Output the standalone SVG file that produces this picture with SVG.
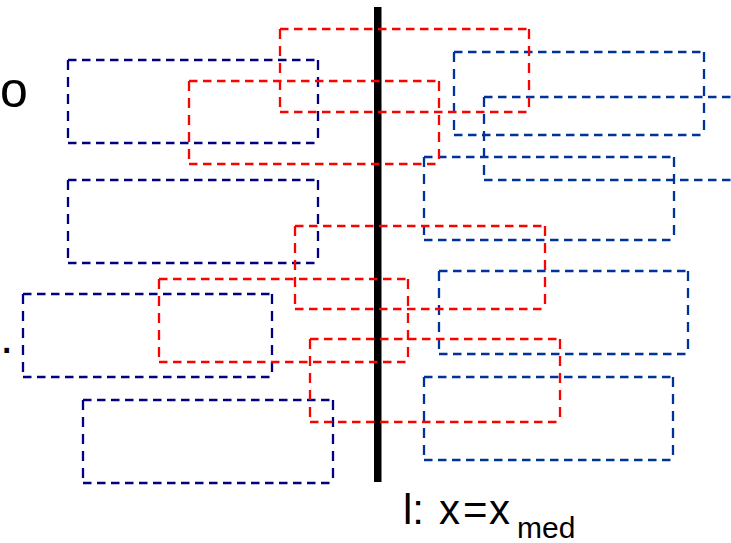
<svg xmlns="http://www.w3.org/2000/svg" width="731" height="543" viewBox="0 0 731 543">
<style>
path{fill:none;stroke-width:2.3}
.b{stroke:#000080}
.r{stroke:#ff0000}
.c{stroke:#003399}
.h{stroke-dasharray:8.5 5.5}
.v{stroke-dasharray:10 7}
text{font-family:"Liberation Sans",Arial,sans-serif;fill:#000}
</style>
<rect width="731" height="543" fill="#fff"/>
<g id="connectors">
<rect id="median-line" x="374" y="7" width="7.5" height="475" fill="#000"/>
</g>
<g id="left-blue-1" class="b"><path class="h" d="M68 60H318M68 143H318"/><path class="v" d="M68 60V143M318 60V143"/></g>
<g id="left-blue-2" class="b"><path class="h" d="M68 180H318M68 263H318"/><path class="v" d="M68 180V263M318 180V263"/></g>
<g id="left-blue-3" class="b"><path class="h" d="M23 294H272M23 377H272"/><path class="v" d="M23 294V377M272 294V377"/></g>
<g id="left-blue-4" class="b"><path class="h" d="M83 400H333M83 483H333"/><path class="v" d="M83 400V483M333 400V483"/></g>
<g id="right-blue-1" class="c"><path class="h" d="M454 52H704M454 135H704"/><path class="v" d="M454 52V135M704 52V135"/></g>
<g id="right-blue-2" class="c"><path class="h" d="M484 97H736M484 180H736"/><path class="v" d="M484 97V180"/></g>
<g id="right-blue-3" class="c"><path class="h" d="M424 157H674M424 240H674"/><path class="v" d="M424 157V240M674 157V240"/></g>
<g id="right-blue-4" class="c"><path class="h" d="M439 271H688M439 354H688"/><path class="v" d="M439 271V354M688 271V354"/></g>
<g id="right-blue-5" class="c"><path class="h" d="M424 377H673M424 460H673"/><path class="v" d="M424 377V460M673 377V460"/></g>
<g id="red-1" class="r"><path class="h" d="M280 29H529M280 112H529"/><path class="v" d="M280 29V112M529 29V112"/></g>
<g id="red-2" class="r"><path class="h" d="M189 81H439M189 164H439"/><path class="v" d="M189 81V164M439 81V164"/></g>
<g id="red-3" class="r"><path class="h" d="M295 226H545M295 309H545"/><path class="v" d="M295 226V309M545 226V309"/></g>
<g id="red-4" class="r"><path class="h" d="M159 279H408M159 362H408"/><path class="v" d="M159 279V362M408 279V362"/></g>
<g id="red-5" class="r"><path class="h" d="M310 339H560M310 422H560"/><path class="v" d="M310 339V422M560 339V422"/></g>
<g id="labels">
<text x="0" y="107" font-size="50">o</text>
<text x="0" y="353" font-size="48">.</text>
<text y="524" font-size="42"><tspan x="403">l:</tspan><tspan x="439">x</tspan><tspan x="463">=</tspan><tspan x="489">x</tspan><tspan x="517" y="538" font-size="30">med</tspan></text>
</g>
</svg>
